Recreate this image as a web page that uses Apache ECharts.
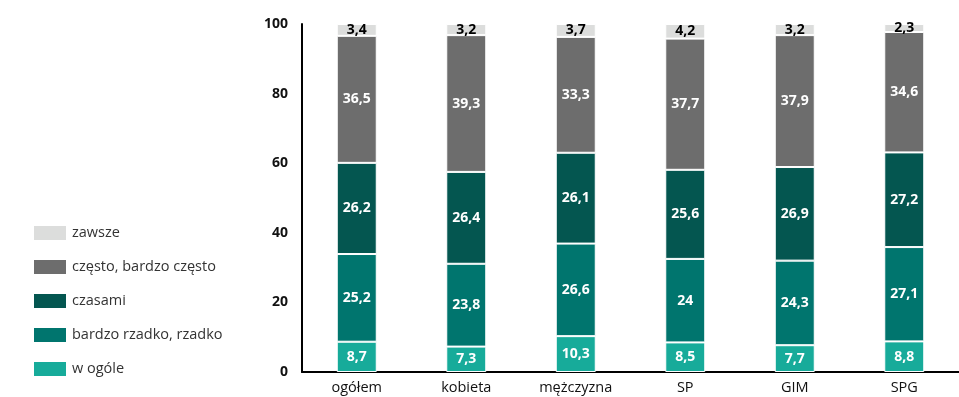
<!DOCTYPE html>
<html><head><meta charset="utf-8">
<script src="https://cdn.jsdelivr.net/npm/echarts@6/dist/echarts.min.js"></script>
<style>html,body{margin:0;padding:0;background:#fff}#c{width:959px;height:397px}</style>
</head><body><div id="c"></div>
<script>
const categories = ['ogółem','kobieta','mężczyzna','SP','GIM','SPG'];
const wOgole = [8.7, 7.3, 10.3, 8.5, 7.7, 8.8];
const rzadko = [25.2, 23.8, 26.6, 24, 24.3, 27.1];
const czasami = [26.2, 26.4, 26.1, 25.6, 26.9, 27.2];
const czesto = [36.5, 39.3, 33.3, 37.7, 37.9, 34.6];
const zawsze = [3.4, 3.2, 3.7, 4.2, 3.2, 2.3];
const yTicks = [0, 20, 40, 60, 80, 100];

const FONT = '"Open Sans", "DejaVu Sans", sans-serif';
const fmt = p => String(p.value).replace('.', ',');
function mk(name, data, color, labelColor) {
  return {
    name, type: 'bar', stack: 'a', data, barWidth: 40,
    itemStyle: { color, borderColor: '#fff', borderWidth: 1 },
    label: { show: true, position: 'inside', formatter: fmt, color: labelColor,
      fontFamily: FONT, fontWeight: 'bold', fontSize: 14 }
  };
}
const chart = echarts.init(document.getElementById('c'));
chart.setOption({
  animation: false,
  grid: { left: 302, top: 24, width: 662, bottom: 25 },
  legend: {
    orient: 'vertical', left: 27, top: 219, itemWidth: 34, itemHeight: 16, itemGap: 16,
    icon: 'rect',
    data: ['zawsze', 'często, bardzo często', 'czasami', 'bardzo rzadko, rzadko', 'w ogóle'],
    textStyle: { fontFamily: FONT, fontSize: 14.5, color: '#333' }
  },
  xAxis: {
    type: 'category', data: categories,
    axisLine: { lineStyle: { color: '#000', width: 2 } },
    axisTick: { show: false },
    axisLabel: { fontFamily: FONT, fontSize: 14.5, color: '#111', margin: 8 }
  },
  yAxis: {
    type: 'value', min: yTicks[0], max: yTicks[yTicks.length - 1], interval: 20,
    splitLine: { show: false },
    axisLine: { show: true, lineStyle: { color: '#000', width: 2 } },
    axisTick: { show: false },
    axisLabel: { fontFamily: FONT, fontSize: 14, fontWeight: 'bold', color: '#111', margin: 14 }
  },
  series: [
    mk('w ogóle', wOgole, '#17ab9a', '#fff'),
    mk('bardzo rzadko, rzadko', rzadko, '#00756e', '#fff'),
    mk('czasami', czasami, '#045650', '#fff'),
    mk('często, bardzo często', czesto, '#6d6d6d', '#fff'),
    mk('zawsze', zawsze, '#dcdddc', '#000')
  ]
});
</script></body></html>
